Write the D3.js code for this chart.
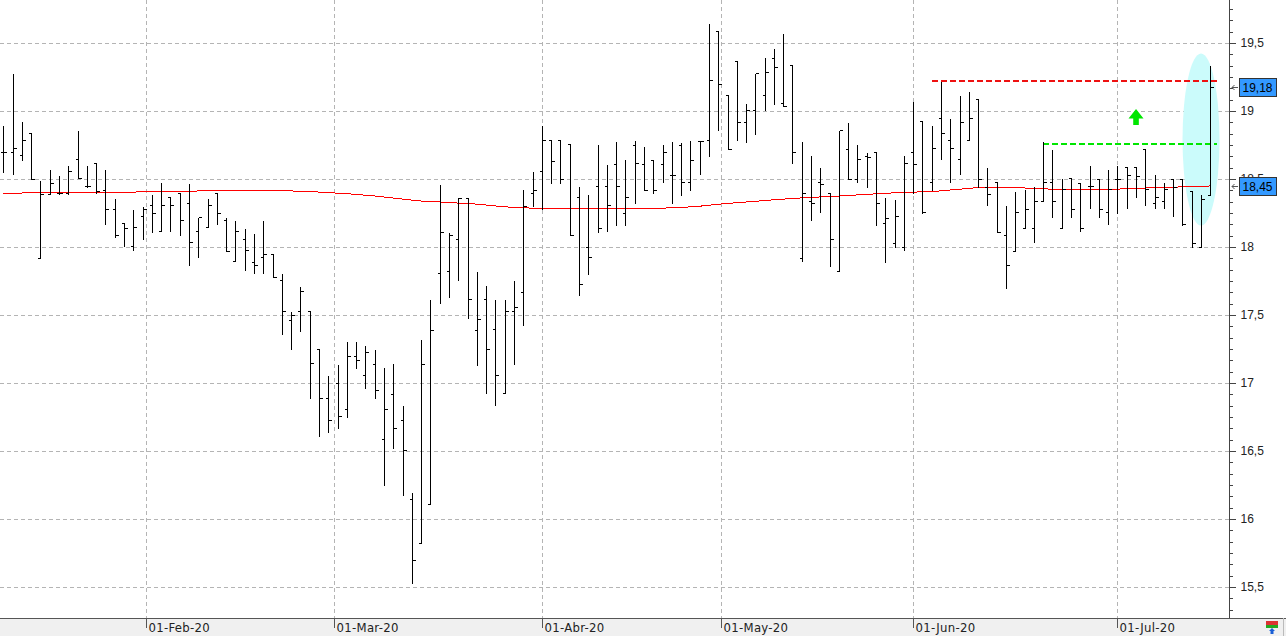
<!DOCTYPE html>
<html>
<head>
<meta charset="utf-8">
<script src="https://cdn.jsdelivr.net/npm/d3@7"></script>
<style>
  html, body { margin: 0; padding: 0; background: #fff; }
  svg { display: block; }
</style>
</head>
<body>
<div id="chart"></div>
<script>
// sessions: weekdays from the first one, minus market holidays
const firstSession = "2020-01-10"
const holidays = ["2020-04-10", "2020-04-13", "2020-05-01"]

const monthStarts = ["2020-02-01", "2020-03-01", "2020-04-01", "2020-05-01", "2020-06-01", "2020-07-01"]
const monthLabels = ["01-Feb-20", "01-Mar-20", "01-Abr-20", "01-May-20", "01-Jun-20", "01-Jul-20"]

const priceTicks = [15.5, 16, 16.5, 17, 17.5, 18, 18.5, 19, 19.5]

const open = [
  18.70, 18.70, 18.68, 18.84, 17.92, 18.39, 18.40, 18.40, 18.65, 18.45,
  18.62, 18.42, 18.28, 18.18, 18.01, 18.23, 18.31, 18.12, 18.37, 18.40,
  18.32, 18.12, 18.15, 18.40, 18.20, 17.90, 18.06, 17.89, 17.93, 17.95,
  17.76, 17.46, 17.53, 17.53, 17.25, 16.89, 17.00, 16.81, 17.20, 17.06,
  17.14, 16.59, 16.92, 16.73, 16.15, 15.82, 16.11, 17.81, 17.82, 18.06,
  18.36, 17.39, 17.62, 17.40, 16.93, 17.53, 17.67, 18.40, 18.56, 18.79,
  18.79, 18.76, 18.37, 18.00, 18.45, 18.45, 18.61, 18.25, 18.75, 18.61,
  18.64, 18.61, 18.53, 18.75, 18.48, 18.78, 18.79, 19.59, 19.12, 19.37,
  18.92, 19.01, 19.12, 19.39, 19.06, 19.34, 17.92, 18.34, 18.48, 18.40,
  17.82, 18.72, 18.50, 18.67, 18.70, 18.18, 18.03, 18.00, 18.70, 18.93,
  18.48, 18.95, 18.79, 18.65, 18.79, 19.09, 18.44, 18.48, 18.09, 17.97,
  18.14, 18.14, 18.34, 18.48, 18.14, 18.51, 18.47, 18.45, 18.50, 18.26,
  18.50, 18.59, 18.59, 18.72, 18.32, 18.34, 18.50, 18.50, 18.41, 18.00,
  18.38
]
const high = [
  18.90, 19.28, 18.93, 18.84, 18.49, 18.57, 18.53, 18.60, 18.86, 18.60,
  18.62, 18.57, 18.36, 18.18, 18.28, 18.30, 18.39, 18.48, 18.37, 18.40,
  18.47, 18.22, 18.36, 18.40, 18.22, 18.20, 18.14, 18.10, 18.20, 17.95,
  17.81, 17.53, 17.71, 17.53, 17.25, 17.06, 17.14, 17.31, 17.31, 17.28,
  17.25, 17.12, 17.15, 16.84, 16.20, 17.32, 17.62, 18.46, 18.11, 18.37,
  18.36, 17.82, 17.72, 17.62, 17.62, 17.76, 18.43, 18.56, 18.90, 18.79,
  18.79, 18.76, 18.45, 18.39, 18.76, 18.61, 18.78, 18.65, 18.79, 18.74,
  18.64, 18.76, 18.78, 18.77, 18.79, 18.79, 19.65, 19.59, 19.12, 19.37,
  19.06, 19.28, 19.40, 19.46, 19.57, 19.34, 18.78, 18.68, 18.59, 18.40,
  18.86, 18.92, 18.76, 18.70, 18.70, 18.37, 18.35, 18.68, 19.07, 18.93,
  18.90, 19.22, 18.95, 19.12, 19.15, 19.09, 18.59, 18.48, 18.31, 18.41,
  18.43, 18.45, 18.78, 18.72, 18.51, 18.51, 18.47, 18.60, 18.50, 18.57,
  18.60, 18.59, 18.59, 18.72, 18.54, 18.48, 18.50, 18.50, 18.42, 18.39,
  19.34
]
const low = [
  18.55, 18.54, 18.64, 18.50, 17.92, 18.39, 18.39, 18.39, 18.51, 18.44,
  18.40, 18.17, 18.07, 18.01, 17.98, 18.06, 18.11, 18.12, 18.12, 18.09,
  17.87, 17.93, 18.15, 18.17, 17.97, 17.90, 17.83, 17.81, 17.81, 17.78,
  17.36, 17.25, 17.38, 16.89, 16.61, 16.64, 16.67, 16.75, 17.11, 16.96,
  16.89, 16.25, 16.52, 16.18, 15.53, 15.82, 16.11, 17.59, 17.63, 17.76,
  17.48, 17.13, 16.93, 16.84, 16.93, 17.14, 17.43, 18.30, 18.28, 18.47,
  18.47, 18.09, 17.65, 17.80, 18.11, 18.12, 18.16, 18.16, 18.32, 18.42,
  18.40, 18.48, 18.32, 18.38, 18.42, 18.54, 18.67, 18.86, 18.72, 18.79,
  18.77, 18.83, 19.01, 19.05, 19.04, 18.62, 17.90, 18.20, 18.26, 17.86,
  17.82, 18.50, 18.48, 18.44, 18.16, 17.89, 18.00, 17.98, 18.40, 18.25,
  18.42, 18.65, 18.48, 18.54, 18.79, 18.44, 18.31, 18.11, 17.70, 17.97,
  18.14, 18.04, 18.34, 18.22, 18.14, 18.22, 18.12, 18.29, 18.22, 18.17,
  18.25, 18.29, 18.37, 18.31, 18.29, 18.29, 18.23, 18.16, 18.00, 18.00,
  18.38
]
const close = [
  18.70, 18.73, 18.79, 18.50, 18.39, 18.47, 18.40, 18.56, 18.51, 18.45,
  18.41, 18.28, 18.09, 18.14, 18.15, 18.28, 18.25, 18.31, 18.31, 18.20,
  18.04, 18.22, 18.31, 18.25, 17.97, 18.12, 17.98, 17.87, 17.95, 17.78,
  17.53, 17.50, 17.68, 17.15, 16.89, 16.73, 16.76, 17.20, 17.17, 17.23,
  16.95, 16.81, 16.67, 16.51, 15.70, 17.14, 17.39, 18.11, 18.09, 18.36,
  17.62, 17.47, 17.25, 17.06, 17.53, 17.56, 18.30, 18.42, 18.79, 18.63,
  18.50, 18.09, 17.73, 17.93, 18.14, 18.31, 18.45, 18.37, 18.62, 18.42,
  18.42, 18.70, 18.53, 18.48, 18.64, 18.78, 19.23, 19.20, 18.72, 18.92,
  19.01, 19.28, 19.29, 19.32, 19.04, 18.70, 18.40, 18.32, 18.46, 18.06,
  18.86, 18.50, 18.65, 18.66, 18.32, 18.21, 18.23, 18.62, 18.61, 18.26,
  18.73, 18.84, 18.73, 18.92, 18.95, 18.50, 18.39, 18.11, 17.87, 18.26,
  18.28, 18.34, 18.48, 18.34, 18.43, 18.28, 18.14, 18.45, 18.28, 18.43,
  18.50, 18.53, 18.52, 18.43, 18.37, 18.43, 18.44, 18.17, 18.03, 18.35,
  19.18
]
// long moving average (red)
const movingAvg = [
  18.395, 18.396, 18.397, 18.398, 18.399, 18.400, 18.400, 18.400, 18.400, 18.400,
  18.400, 18.401, 18.402, 18.403, 18.404, 18.405, 18.406, 18.407, 18.408, 18.409,
  18.410, 18.412, 18.414, 18.416, 18.417, 18.417, 18.417, 18.417, 18.417, 18.416,
  18.414, 18.412, 18.410, 18.407, 18.404, 18.400, 18.396, 18.392, 18.387, 18.381,
  18.375, 18.368, 18.360, 18.352, 18.345, 18.338, 18.334, 18.331, 18.327, 18.323,
  18.320, 18.315, 18.309, 18.302, 18.296, 18.290, 18.288, 18.286, 18.285, 18.285,
  18.285, 18.285, 18.285, 18.285, 18.285, 18.285, 18.285, 18.285, 18.285, 18.285,
  18.285, 18.286, 18.288, 18.291, 18.295, 18.300, 18.307, 18.314, 18.320, 18.326,
  18.331, 18.336, 18.342, 18.347, 18.352, 18.357, 18.361, 18.365, 18.368, 18.372,
  18.375, 18.379, 18.383, 18.387, 18.391, 18.395, 18.398, 18.400, 18.403, 18.406,
  18.408, 18.413, 18.419, 18.425, 18.431, 18.437, 18.439, 18.439, 18.439, 18.437,
  18.434, 18.431, 18.428, 18.425, 18.422, 18.419, 18.420, 18.422, 18.424, 18.425,
  18.426, 18.428, 18.431, 18.434, 18.436, 18.438, 18.440, 18.442, 18.444, 18.446,
  18.449
]

// drawn levels: start session and price
const levelStart = [100, 112]
const levelPrice = [19.22, 18.76]
const levelColor = ["#ee1111", "#00e600"]

const width = 1286
const height = 636
const axisX = 1229.5
const plotBottom = 618

const locale = d3.formatLocale({ decimal: ",", thousands: ".", grouping: [3], currency: ["", "€"] })
const fmtTick = locale.format("~g")
const fmtPrice = locale.format(".2f")

// build the session calendar
const parseDay = d3.utcParse("%Y-%m-%d")
const dayKey = d3.utcFormat("%Y-%m-%d")
const holidaySet = new Set(holidays)
const dates = []
let day = parseDay(firstSession)
while (dates.length < close.length) {
  const wd = day.getUTCDay()
  if (wd !== 0 && wd !== 6 && !holidaySet.has(dayKey(day))) dates.push(day)
  day = d3.utcDay.offset(day, 1)
}

// month starts falling on non-sessions sit between bars, in proportion to calendar time
const monthPos = monthStarts.map(s => {
  const d = parseDay(s)
  const i = d3.bisectRight(dates, d) - 1
  if (+dates[i] === +d) return i
  return i + (d - dates[i]) / (dates[i + 1] - dates[i])
})

const x = d3.scaleLinear().domain([0, close.length - 1]).range([3.3, 1210.3])
const y = d3.scaleLinear().domain([15.5, 19.5]).range([587, 43])
const px = v => Math.round(v) + 0.5

const svg = d3.select("#chart")
  .append("svg")
  .attr("width", width)
  .attr("height", height)
  .style("background", "#fff")

// grid
svg.append("g")
  .selectAll("line")
  .data(priceTicks)
  .join("line")
  .attr("x1", 0)
  .attr("x2", axisX)
  .attr("y1", d => px(y(d)))
  .attr("y2", d => px(y(d)))
  .attr("stroke", "#b4b4b4")
  .attr("stroke-dasharray", "4,3")
  .attr("shape-rendering", "crispEdges")

svg.append("g")
  .selectAll("line")
  .data(monthPos)
  .join("line")
  .attr("x1", d => px(x(d)))
  .attr("x2", d => px(x(d)))
  .attr("y1", 0)
  .attr("y2", plotBottom)
  .attr("stroke", "#b4b4b4")
  .attr("stroke-dasharray", "4,3")
  .attr("shape-rendering", "crispEdges")

// highlight ellipse round the last sessions
svg.append("ellipse")
  .attr("cx", x(close.length - 2))
  .attr("cy", y(18.79))
  .attr("rx", 18.5)
  .attr("ry", 86)
  .attr("fill", "#cbfbfb")

// moving average
svg.append("path")
  .datum(movingAvg)
  .attr("fill", "none")
  .attr("stroke", "#ff0000")
  .attr("stroke-width", 1)
  .attr("shape-rendering", "crispEdges")
  .attr("d", d3.line().x((d, i) => x(i)).y(d => y(d)))

// dashed levels
const levelEnd = x(close.length - 1) + 7
svg.append("g")
  .selectAll("line")
  .data(levelPrice)
  .join("line")
  .attr("x1", (d, i) => x(levelStart[i]))
  .attr("x2", levelEnd)
  .attr("y1", d => Math.round(y(d)))
  .attr("y2", d => Math.round(y(d)))
  .attr("stroke", (d, i) => levelColor[i])
  .attr("stroke-width", 2)
  .attr("stroke-dasharray", "6,3")
  .attr("shape-rendering", "crispEdges")

// OHLC bars
svg.append("g")
  .selectAll("path")
  .data(close)
  .join("path")
  .attr("fill", "none")
  .attr("stroke", "#000")
  .attr("stroke-width", 1)
  .attr("shape-rendering", "crispEdges")
  .attr("d", (c, i) => {
    const bx = px(x(i))
    return `M${bx},${px(y(high[i]))}V${px(y(low[i]))}` +
      `M${bx - 3},${px(y(open[i]))}H${bx}` +
      `M${bx},${px(y(c))}H${bx + 3}`
  })

// green up arrow
const ax = x(122)
const at = 109
svg.append("path")
  .attr("fill", "#00e600")
  .attr("d", `M${ax},${at}L${ax + 7.5},${at + 9.5}L${ax + 2.8},${at + 9.5}L${ax + 2.8},${at + 16}` +
    `L${ax - 2.8},${at + 16}L${ax - 2.8},${at + 9.5}L${ax - 7.5},${at + 9.5}Z`)

// right price axis
svg.append("line")
  .attr("x1", axisX).attr("x2", axisX)
  .attr("y1", 0).attr("y2", plotBottom)
  .attr("stroke", "#444")
  .attr("shape-rendering", "crispEdges")

const minorTicks = d3.range(-2, 52)
  .map(k => 15.5 + k / 12)
  .filter(v => Math.abs(v * 2 - Math.round(v * 2)) > 1e-6)

const minorAxis = svg.append("g")
  .attr("transform", `translate(${axisX},0)`)
  .call(d3.axisRight(y).tickValues(minorTicks).tickSize(3).tickFormat(""))
minorAxis.select(".domain").remove()

const majorAxis = svg.append("g")
  .attr("transform", `translate(${axisX},0)`)
  .call(d3.axisRight(y).tickValues(priceTicks).tickSize(6).tickPadding(5).tickFormat(fmtTick))
majorAxis.select(".domain").remove()

svg.selectAll(".tick line")
  .attr("stroke", "#444")
  .attr("shape-rendering", "crispEdges")
majorAxis.selectAll("text")
  .attr("fill", "#222")
  .attr("font-family", "'Liberation Sans', Arial, sans-serif")
  .attr("font-size", "12px")

// last value tags (the 18,5 tick label stays partly hidden behind one, as on screen)
const tags = [close[close.length - 1], movingAvg[movingAvg.length - 1]]
const tag = svg.append("g")
  .selectAll("g")
  .data(tags)
  .join("g")
  .attr("transform", d => `translate(0,${Math.round(y(d))})`)

tag.append("path")
  .attr("fill", "none")
  .attr("stroke", "#555")
  .attr("d", "M1238,0.5H1232M1234.5,-2L1232,0.5L1234.5,3")

tag.append("rect")
  .attr("x", 1239.5)
  .attr("y", -8.5)
  .attr("width", 37)
  .attr("height", 18)
  .attr("fill", "#3399ff")
  .attr("stroke", "#333")
  .attr("shape-rendering", "crispEdges")

tag.append("text")
  .attr("x", 1242.5)
  .attr("y", 5)
  .attr("fill", "#000")
  .attr("font-family", "'Liberation Sans', Arial, sans-serif")
  .attr("font-size", "12px")
  .text(d => fmtPrice(d))

// date axis band
svg.append("rect")
  .attr("x", 0)
  .attr("y", plotBottom)
  .attr("width", width)
  .attr("height", height - plotBottom)
  .attr("fill", "#f0f0f0")

svg.append("line")
  .attr("x1", 0).attr("x2", width)
  .attr("y1", plotBottom + 0.5).attr("y2", plotBottom + 0.5)
  .attr("stroke", "#555")
  .attr("shape-rendering", "crispEdges")

const months = svg.append("g")
  .selectAll("g")
  .data(monthPos)
  .join("g")
  .attr("transform", d => `translate(${px(x(d))},${plotBottom})`)

months.append("line")
  .attr("y1", 0)
  .attr("y2", 10)
  .attr("stroke", "#555")
  .attr("shape-rendering", "crispEdges")

months.append("text")
  .attr("x", 2)
  .attr("y", 14)
  .attr("fill", "#222")
  .attr("font-family", "'Liberation Sans Narrow', 'DejaVu Sans Condensed', sans-serif")
  .attr("font-size", "13px")
  .attr("letter-spacing", "0.3px")
  .text((d, i) => monthLabels[i])

// small toolbar icon at the corner
const icon = svg.append("g").attr("transform", "translate(1266,621)")
icon.append("rect").attr("width", 12).attr("height", 4).attr("fill", "#d33")
icon.append("rect").attr("y", 4).attr("width", 12).attr("height", 3).attr("fill", "#2a2")
icon.append("path").attr("d", "M6,7L9,10H7.5V13H4.5V10H3Z").attr("fill", "#1a5fd6")
svg.append("line")
  .attr("x1", 1283.5).attr("x2", 1283.5)
  .attr("y1", plotBottom).attr("y2", height)
  .attr("stroke", "#bbb")
</script>
</body>
</html>
